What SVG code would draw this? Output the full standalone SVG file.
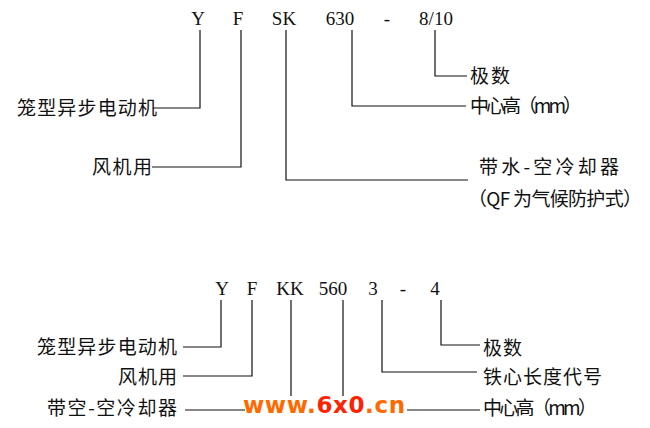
<svg xmlns="http://www.w3.org/2000/svg" width="650" height="428" viewBox="0 0 650 428">
<style>
.cn{font-family:"Noto Sans CJK SC","Noto Sans",sans-serif;font-size:19px;fill:#111}
.code{font-family:"Liberation Serif",serif;font-size:19px;fill:#111;text-anchor:middle}
.ln{fill:none;stroke:#111;stroke-width:1.2}
.wm{font-family:"DejaVu Sans",sans-serif;font-weight:bold;font-size:23px}
</style>
<rect width="650" height="428" fill="#fff"/>
<g id="model-top">
<text class="code" x="198" y="25">Y</text>
<text class="code" x="238" y="25">F</text>
<text class="code" x="284" y="25">SK</text>
<text class="code" x="340" y="25">630</text>
<text class="code" x="387" y="25">-</text>
<text class="code" x="436" y="25">8/10</text>
</g>
<g id="model-bottom">
<text class="code" x="222" y="295">Y</text>
<text class="code" x="252" y="295">F</text>
<text class="code" x="290" y="295">KK</text>
<text class="code" x="333" y="295">560</text>
<text class="code" x="373" y="295">3</text>
<text class="code" x="403" y="295">-</text>
<text class="code" x="435" y="295">4</text>
</g>
<g id="connectors">
<path class="ln" d="M200,30V108H153"/>
<path class="ln" d="M241,30V167H152"/>
<path class="ln" d="M286,30V180H468"/>
<path class="ln" d="M352,30V106H466"/>
<path class="ln" d="M435,30V76H467"/>
<path class="ln" d="M221,300V347H183"/>
<path class="ln" d="M252,300V376H183"/>
<path class="ln" d="M291,300V396"/>
<path class="ln" d="M343,300V396"/>
<path class="ln" d="M185,410H245"/>
<path class="ln" d="M407,410H480"/>
<path class="ln" d="M382,300V372H477"/>
<path class="ln" d="M441,300V345H480"/>
</g>
<g id="labels-top">
<text class="cn" x="17" y="115" textLength="140">笼型异步电动机</text>
<text class="cn" x="92" y="174" textLength="60">风机用</text>
<text class="cn" x="470" y="83" textLength="40">极数</text>
<text class="cn" x="470" y="113" textLength="112">中心高（mm）</text>
<text class="cn" x="479" y="174" textLength="140">带水-空冷却器</text>
<text class="cn" x="468" y="206" textLength="174">（QF 为气候防护式）</text>
</g>
<g id="labels-bottom">
<text class="cn" x="37" y="354" textLength="140">笼型异步电动机</text>
<text class="cn" x="118" y="384" textLength="59">风机用</text>
<text class="cn" x="47" y="415" textLength="130">带空-空冷却器</text>
<text class="cn" x="483" y="355" textLength="39">极数</text>
<text class="cn" x="483" y="384" textLength="119">铁心长度代号</text>
<text class="cn" x="483" y="415" textLength="114">中心高（mm）</text>
</g>
<g id="watermark">
<text class="wm" x="243" y="413" textLength="162"><tspan fill="#ff6a00">www.</tspan><tspan fill="#ff2200">6x0</tspan><tspan fill="#ff6a00">.cn</tspan></text>
</g>
</svg>
